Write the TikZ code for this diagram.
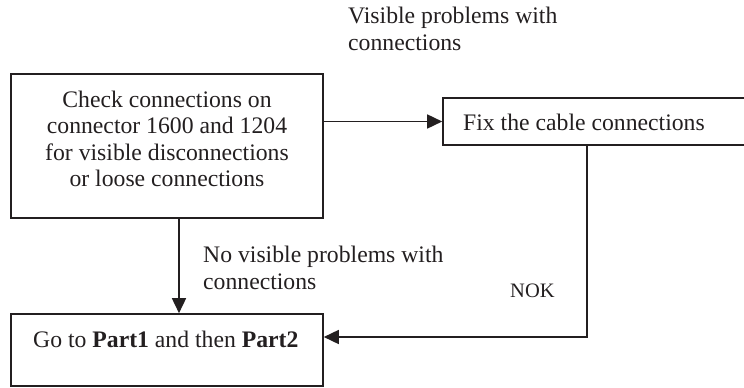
\documentclass[tikz,border=0pt]{standalone}
\usepackage{fontspec}
\setmainfont{Liberation Serif}
\usetikzlibrary{arrows.meta}
\definecolor{ink}{RGB}{35,31,32}
\tikzset{
  box/.style={draw=ink, line width=1.6pt, minimum width=312pt, inner sep=0pt},
  txt/.style={inner sep=0pt, text=ink, font=\fontsize{23.7}{26.5}\selectfont},
  arr/.style={draw=ink, line width=1.6pt, -{Triangle[length=15pt,width=14pt]}},
  conn/.style={draw=ink, line width=1.6pt}
}
\begin{document}
\begin{tikzpicture}[x=1pt,y=-1pt]
\useasboundingbox (0,0) rectangle (744,388);
% boxes
\node[box, minimum width=312pt, minimum height=144pt] (b1) at (167,146) {};
\node[box, minimum width=302pt, minimum height=47pt] (b2) at (594,121.5) {};
\node[box, minimum width=312pt, minimum height=72pt] (b3) at (167,350) {};
% box texts (base = baseline of last line)
\node[txt, anchor=base, align=center] (t1) at (167,186.5)
  {Check connections on\\connector 1600 and 1204\\for visible disconnections\\or loose connections};
\node[txt, anchor=base west] (t2) at (463,130) {Fix the cable connections};
\node[txt, anchor=base west] (t3) at (33,347) {Go to \textbf{Part1} and then \textbf{Part2}};
% labels
\node[txt, anchor=base west, align=left] (l1) at (348,50) {Visible problems with\\connections};
\node[txt, anchor=base west, align=left] (l2) at (203,289) {No visible problems with\\connections};
\node[txt, anchor=base west, font=\fontsize{20.5}{24}\selectfont] (l3) at (510,297) {NOK};
% connectors
\draw[arr] (b1.east |- b2.west) -- (b2.west);
\draw[arr] ([xshift=12pt]b1.south) -- ([xshift=12pt]b3.north);
\draw[arr] ([xshift=-7pt]b2.south) |- ([yshift=13pt]b3.east);
\end{tikzpicture}
\end{document}
